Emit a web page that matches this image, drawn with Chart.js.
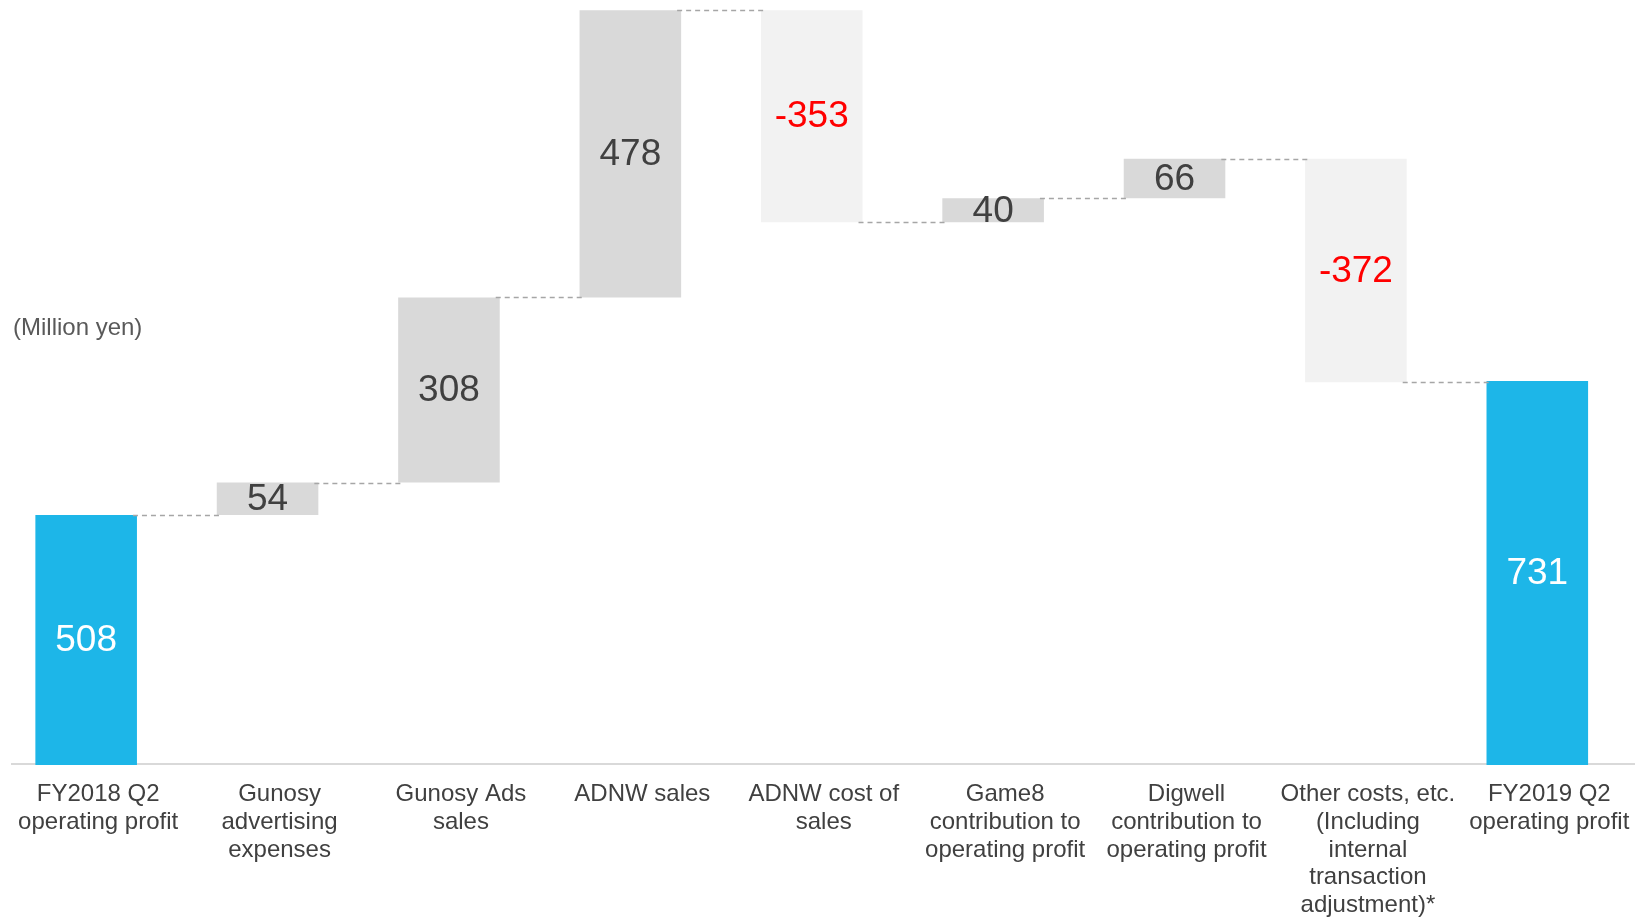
<!DOCTYPE html>
<html>
<head>
<meta charset="utf-8">
<script src="https://cdn.jsdelivr.net/npm/chart.js@4/dist/chart.umd.min.js"></script>
<style>
  html, body { margin: 0; padding: 0; background: #fff; }
  #wrap { width: 1643px; height: 917px; position: relative; overflow: hidden; }
  #inner { position: absolute; left: -10px; top: 0; width: 1653px; height: 917px; }
</style>
</head>
<body>
<div id="wrap"><div id="inner"><canvas id="chart"></canvas></div></div>
<script>
const categories = [
  ['FY2018 Q2', 'operating profit'],
  ['Gunosy', 'advertising', 'expenses'],
  ['Gunosy Ads', 'sales'],
  ['ADNW sales'],
  ['ADNW cost of', 'sales'],
  ['Game8', 'contribution to', 'operating profit'],
  ['Digwell', 'contribution to', 'operating profit'],
  ['Other costs, etc.', '(Including', 'internal', 'transaction', 'adjustment)*'],
  ['FY2019 Q2', 'operating profit']
];
const changes = [508, 54, 308, 478, -353, 40, 66, -372, 731];
const kinds = ['total', 'up', 'up', 'up', 'down', 'up', 'up', 'down', 'total'];
const unitLabel = '(Million yen)';

const colors = { total: '#1DB6E8', up: '#D9D9D9', down: '#F2F2F2' };
const textColors = { total: '#FFFFFF', up: '#404040', down: '#FF0000' };

// canvas sits 10px left of the page edge
const shift = 10;

// build floating bars [start, end] from the running total
let running = 0;
const ranges = [];
const levels = [];
changes.forEach((v, i) => {
  if (kinds[i] === 'total') {
    ranges.push([0, v]);
    running = v;
  } else {
    ranges.push([running, running + v]);
    running += v;
  }
  levels.push(running);
});

const waterfallExtras = {
  id: 'waterfallExtras',
  beforeDatasetsDraw(chart) {
    // baseline across the plot
    const ctx = chart.ctx;
    const yb = chart.chartArea.bottom;
    ctx.save();
    ctx.strokeStyle = '#D9D9D9';
    ctx.lineWidth = 2;
    ctx.beginPath();
    ctx.moveTo(11 + shift, yb - 1);
    ctx.lineTo(1635 + shift, yb - 1);
    ctx.stroke();
    ctx.restore();
  },
  afterDatasetsDraw(chart) {
    const ctx = chart.ctx;
    const meta = chart.getDatasetMeta(0);
    const y = chart.scales.y;
    const area = chart.chartArea;

    // dashed connectors
    ctx.save();
    ctx.strokeStyle = '#A6A6A6';
    ctx.lineWidth = 1.5;
    ctx.setLineDash([5, 4]);
    for (let i = 0; i < meta.data.length - 1; i++) {
      const a = meta.data[i], b = meta.data[i + 1];
      const py = Math.round(y.getPixelForValue(levels[i])) + 0.5;
      ctx.beginPath();
      ctx.moveTo(a.x + a.width / 2 - 4, py);
      ctx.lineTo(b.x - b.width / 2 + 4, py);
      ctx.stroke();
    }
    ctx.restore();

    // value labels
    ctx.save();
    ctx.font = '37px "Liberation Sans", Arial, sans-serif';
    ctx.textAlign = 'center';
    ctx.textBaseline = 'middle';
    meta.data.forEach((bar, i) => {
      const top = Math.min(bar.y, bar.base);
      const bottom = Math.min(Math.max(bar.y, bar.base), area.bottom);
      ctx.fillStyle = textColors[kinds[i]];
      ctx.fillText(String(changes[i]), bar.x, (top + bottom) / 2 + 1);
    });

    ctx.font = '24px "Liberation Sans", Arial, sans-serif';
    ctx.textAlign = 'left';
    ctx.fillStyle = '#595959';
    ctx.fillText(unitLabel, 13 + shift, 328);
    ctx.restore();
  }
};

new Chart(document.getElementById('chart'), {
  type: 'bar',
  data: {
    labels: categories,
    datasets: [{
      data: ranges,
      backgroundColor: kinds.map(k => colors[k]),
      borderWidth: 0,
      categoryPercentage: 1,
      barPercentage: 0.56
    }]
  },
  options: {
    responsive: true,
    maintainAspectRatio: false,
    animation: false,
    layout: { padding: { top: 9, left: 2, right: 15, bottom: 0 } },
    plugins: {
      legend: { display: false },
      tooltip: { enabled: false }
    },
    scales: {
      x: {
        grid: { display: false, drawTicks: false },
        border: { display: false },
        afterFit: s => { s.height = 152; },
        ticks: {
          autoSkip: false,
          maxRotation: 0,
          padding: 16,
          labelOffset: 12,
          color: '#404040',
          font: { family: '"Liberation Sans", Arial, sans-serif', size: 24, lineHeight: 1.15 }
        }
      },
      y: {
        display: false,
        min: 92,
        max: 1350
      }
    }
  },
  plugins: [waterfallExtras]
});
</script>
</body>
</html>
